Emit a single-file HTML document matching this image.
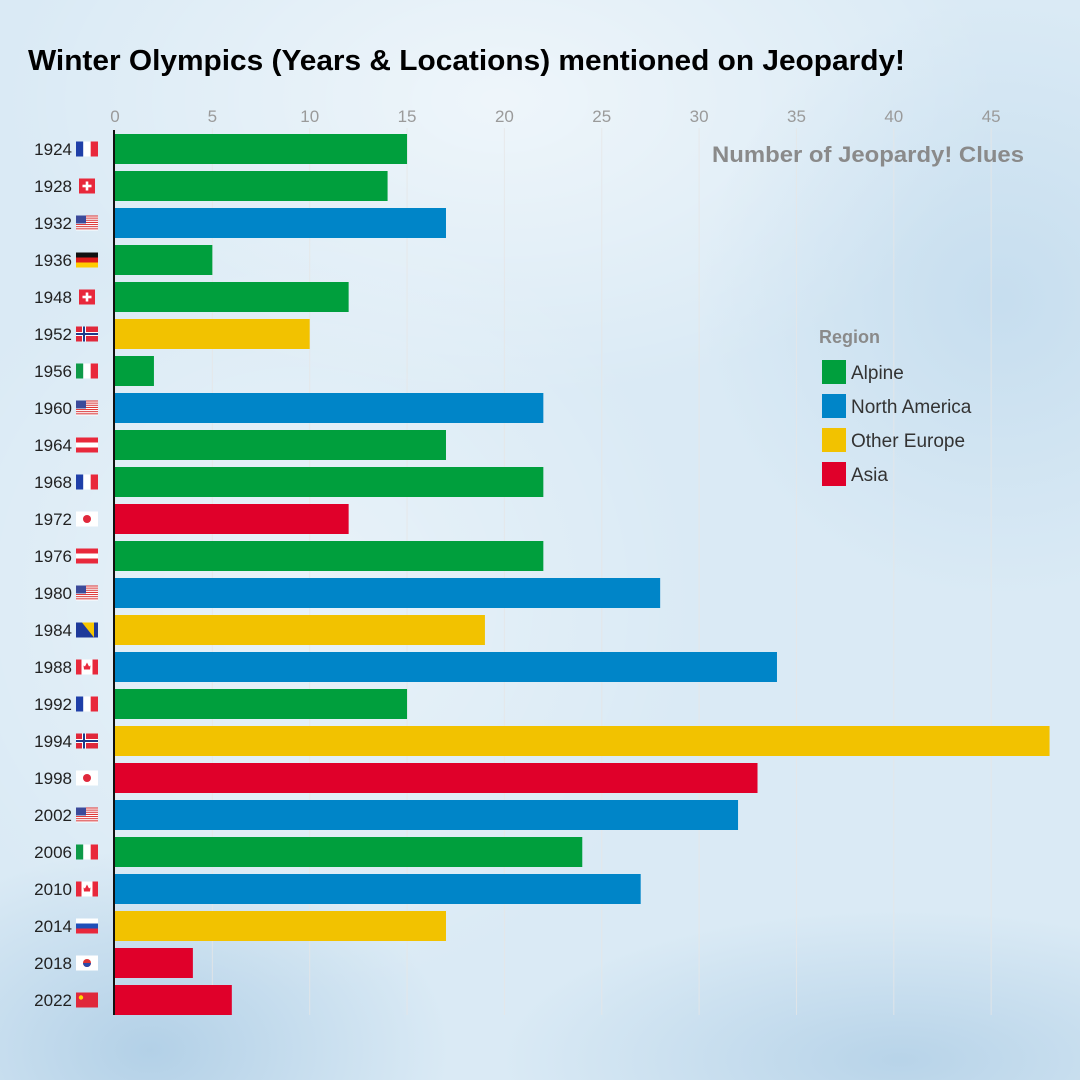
<!DOCTYPE html>
<html><head><meta charset="utf-8"><style>
html,body{margin:0;padding:0;}
body{width:1080px;height:1080px;overflow:hidden;font-family:"Liberation Sans",sans-serif;
background:
radial-gradient(ellipse 300px 200px at 150px 1050px, rgba(120,170,210,.4), transparent),
radial-gradient(ellipse 400px 150px at 900px 1060px, rgba(120,170,210,.35), transparent),
radial-gradient(ellipse 300px 300px at 1000px 300px, rgba(140,185,220,.25), transparent),
radial-gradient(ellipse 500px 300px at 500px 100px, rgba(255,255,255,.55), transparent),
radial-gradient(ellipse 400px 400px at 300px 600px, rgba(255,255,255,.4), transparent),
#daeaf5;}
svg{position:absolute;left:0;top:0;}
</style></head><body>
<svg id="chart" width="1080" height="1080"></svg>
<script>
const years=[1924,1928,1932,1936,1948,1952,1956,1960,1964,1968,1972,1976,1980,1984,1988,1992,1994,1998,2002,2006,2010,2014,2018,2022];
const codes=["fr","ch","us","de","ch","no","it","us","at","fr","jp","at","us","ba","ca","fr","no","jp","us","it","ca","ru","kr","cn"];
const regions=["Alpine","Alpine","North America","Alpine","Alpine","Other Europe","Alpine","North America","Alpine","Alpine","Asia","Alpine","North America","Other Europe","North America","Alpine","Other Europe","Asia","North America","Alpine","North America","Other Europe","Asia","Asia"];
const values=[15,14,17,5,12,10,2,22,17,22,12,22,28,19,34,15,48,33,32,24,27,17,4,6];
const ticks=[0,5,10,15,20,25,30,35,40,45];
const legendNames=["Alpine","North America","Other Europe","Asia"];
const colors={"Alpine":"#009f3d","North America":"#0085c8","Other Europe":"#f2c200","Asia":"#e0002a"};

const NS="http://www.w3.org/2000/svg";
const svg=document.getElementById('chart');
function mk(tag,attrs,parent){const e=document.createElementNS(NS,tag);for(const k in attrs)e.setAttribute(k,attrs[k]);(parent||svg).appendChild(e);return e;}
const x0=115,unit=19.47;
const x=v=>x0+v*unit;
const y=i=>149+i*37;
const barH=30;

let t=mk('text',{x:28,y:70,'font-size':29,'font-weight':'bold',fill:'#000',textLength:877,lengthAdjust:'spacingAndGlyphs'});


t.textContent="Winter Olympics (Years & Locations) mentioned on Jeopardy!";

ticks.forEach(v=>{
  const g=mk('line',{x1:x(v),x2:x(v),y1:128,y2:1015,stroke:'rgba(230,230,230,.8)','stroke-width':1});
  
  
  const l=mk('text',{x:x(v),y:122,'font-size':17,fill:'#9a9a9a','text-anchor':'middle'});
  
  
  l.textContent=v;
});

t=mk('text',{x:712,y:162,'font-size':22,'font-weight':'bold',fill:'#8a8a8a',textLength:312,lengthAdjust:'spacingAndGlyphs'});


t.textContent="Number of Jeopardy! Clues";

function flag(code,fx,fy){
  const g=mk('g',{transform:`translate(${fx},${fy})`});
  
  
  const W=22,H=15;
  const r=(a,b,c,d,f)=>mk('rect',{x:a,y:b,width:c,height:d,fill:f},g);
  switch(code){
    case 'fr': r(0,0,7.3,H,'#1f3fa8');r(7.3,0,7.4,H,'#fff');r(14.7,0,7.3,H,'#e8283b');break;
    case 'it': r(0,0,7.3,H,'#0e9a48');r(7.3,0,7.4,H,'#fff');r(14.7,0,7.3,H,'#e8283b');break;
    case 'ch': r(3,0,16,H,'#e8283b');r(9.7,3,2.6,9,'#fff');r(6.5,6.2,9,2.6,'#fff');break;
    case 'de': r(0,0,W,5,'#111');r(0,5,W,5,'#dd1c1c');r(0,10,W,5,'#ffcc00');break;
    case 'at': r(0,0,W,5,'#e8283b');r(0,5,W,5,'#fff');r(0,10,W,5,'#e8283b');break;
    case 'ru': r(0,0,W,5,'#fff');r(0,5,W,5,'#1f4fb8');r(0,10,W,5,'#e8283b');break;
    case 'us': for(let i=0;i<7;i++){r(0,i*2.14,W,1.07,'#d33');r(0,i*2.14+1.07,W,1.07,'#fff');} r(0,0,10,8,'#3b4a9a');break;
    case 'no': r(0,0,W,H,'#e0283b');r(6,0,4,H,'#fff');r(0,5.5,W,4,'#fff');r(7,0,2,H,'#1e3a8a');r(0,6.5,W,2,'#1e3a8a');break;
    case 'jp': r(0,0,W,H,'#fff');mk('circle',{cx:11,cy:7.5,r:4,fill:'#e0283b'},g);break;
    case 'kr': r(0,0,W,H,'#fff');mk('circle',{cx:11,cy:7.5,r:4,fill:'#d33'},g);mk('path',{d:'M7,7.5 a4,4 0 0 0 8,0 z',fill:'#2a4aa8'},g);break;
    case 'ca': r(0,0,W,H,'#fff');r(0,0,5.5,H,'#e8283b');r(16.5,0,5.5,H,'#e8283b');mk('path',{d:'M11,3 l2,4 l1.5,-1 l-0.5,4 h-6 l-0.5,-4 l1.5,1 z',fill:'#e8283b'},g);break;
    case 'ba': r(0,0,W,H,'#1e3a9a');mk('path',{d:'M6,0 H18 V15 Z',fill:'#f7c600'},g);break;
    case 'cn': r(0,0,W,H,'#e0283b');mk('circle',{cx:5,cy:5,r:2.2,fill:'#ffd800'},g);break;
  }
}

years.forEach((yr,i)=>{
  const b=mk('rect',{x:x0,y:y(i)-barH/2,width:x(values[i])-x0,height:barH,fill:colors[regions[i]]});
  
  
  const l=mk('text',{x:72,y:y(i)+6,'font-size':17,fill:'#222','text-anchor':'end'});
  
  
  l.textContent=yr;
  flag(codes[i],76,y(i)-7.5);
});

const ax=mk('line',{x1:x0-1,x2:x0-1,y1:130,y2:1015,stroke:'#111','stroke-width':2});



const lg=mk('g',{});


t=mk('text',{x:819,y:343,'font-size':18,'font-weight':'bold',fill:'#8a8a8a'},lg);


t.textContent="Region";
legendNames.forEach((n,i)=>{
  const ly=360+i*34;
  const s=mk('rect',{x:822,y:ly,width:24,height:24,fill:colors[n]},lg);
  
  
  const tx=mk('text',{x:851,y:ly+19,'font-size':19,fill:'#333'},lg);
  
  
  tx.textContent=n;
});
</script>
</body></html>
